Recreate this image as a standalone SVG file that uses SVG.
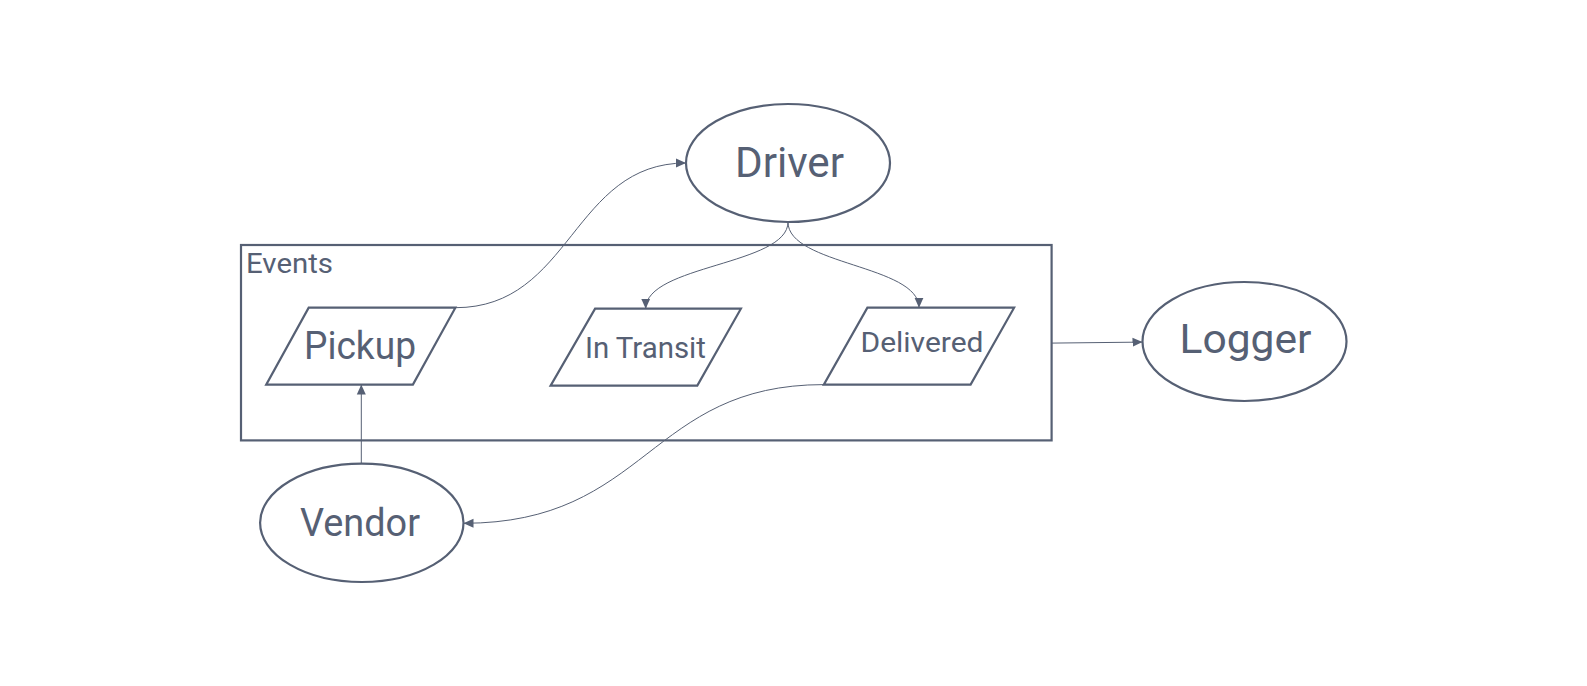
<svg xmlns="http://www.w3.org/2000/svg" width="1587" height="686" viewBox="0 0 1587 686">
<defs>
<style>
.shape{fill:#ffffff;stroke:#566074;stroke-width:2.2}
.frame{fill:none;stroke:#566074;stroke-width:2.2}
.conn{fill:none;stroke:#566074;stroke-width:1}
text{font-family:Roboto,"Liberation Sans",sans-serif;fill:#566074;text-anchor:middle}
.lbl{text-anchor:start}
</style>
<marker id="arr" viewBox="0 0 10 10" refX="10" refY="5" markerWidth="10" markerHeight="10" markerUnits="userSpaceOnUse" orient="auto">
<path d="M0,0.5 L10,5 L0,9.5 Z" fill="#566074"/>
</marker>
</defs>
<rect width="1587" height="686" fill="#ffffff"/>
<g id="events">
<rect class="frame" x="241" y="245" width="810.6" height="195.4"/>
<text class="lbl" x="246" y="273.3" font-size="28" textLength="87" lengthAdjust="spacingAndGlyphs">Events</text>
</g>
<g id="pickup">
<polygon class="shape" points="308.7,307.7 455.4,307.7 412.9,384.6 266.2,384.6"/>
<text x="360" y="359.3" font-size="38" textLength="112" lengthAdjust="spacingAndGlyphs">Pickup</text>
</g>
<g id="intransit">
<polygon class="shape" points="595.1,308.7 740.9,308.7 697.3,385.6 550.6,385.6"/>
<text x="645.4" y="358.3" font-size="30" textLength="121" lengthAdjust="spacingAndGlyphs">In Transit</text>
</g>
<g id="delivered">
<polygon class="shape" points="867.4,307.7 1014.1,307.7 970.6,384.6 823.8,384.6"/>
<text x="922" y="351.7" font-size="28" textLength="123" lengthAdjust="spacingAndGlyphs">Delivered</text>
</g>
<g id="driver">
<ellipse class="shape" cx="788" cy="163" rx="102" ry="59"/>
<text x="789.5" y="176.7" font-size="42" textLength="109" lengthAdjust="spacingAndGlyphs">Driver</text>
</g>
<g id="logger">
<ellipse class="shape" cx="1244.5" cy="341.5" rx="102" ry="59.5"/>
<text x="1245.5" y="353.3" font-size="40" textLength="132" lengthAdjust="spacingAndGlyphs">Logger</text>
</g>
<g id="vendor">
<ellipse class="shape" cx="361.8" cy="522.8" rx="101.7" ry="59.2"/>
<text x="360" y="536" font-size="38" textLength="120" lengthAdjust="spacingAndGlyphs">Vendor</text>
</g>
<g id="connectors">
<path class="conn" d="M455.4,307.7 C572,307.7 572,163 686,163" marker-end="url(#arr)"/>
<path class="conn" d="M788,222 C788,265 645.7,265 645.7,308.7" marker-end="url(#arr)"/>
<path class="conn" d="M788,222 C788,265 919,265 919,307.7" marker-end="url(#arr)"/>
<path class="conn" d="M1051.6,343.1 L1142.5,342.1" marker-end="url(#arr)"/>
<path class="conn" d="M361.3,463.6 L361.3,384.6" marker-end="url(#arr)"/>
<path class="conn" d="M823.8,384.6 C648,384.6 648,523.3 463.5,523.3" marker-end="url(#arr)"/>
</g>
</svg>
